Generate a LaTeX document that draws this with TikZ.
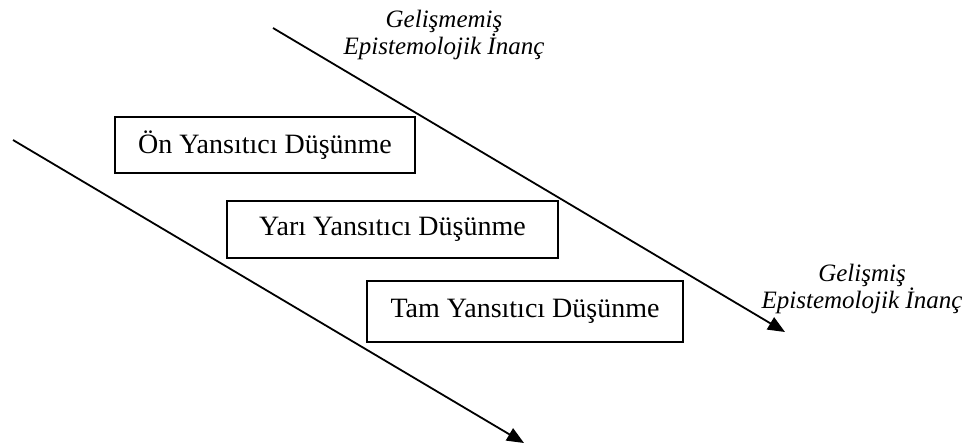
\documentclass[tikz,border=0pt]{standalone}
\usepackage{fontspec}
\setmainfont{Liberation Serif}
\usetikzlibrary{arrows.meta,positioning}

\begin{document}
\begin{tikzpicture}[x=1pt,y=-1pt,
  dbox/.style={draw,line width=1.6pt,inner sep=0pt,minimum height=56pt,
    font=\fontsize{28}{30}\selectfont},
  elabel/.style={align=center,inner sep=0pt,font=\fontsize{25}{27}\selectfont\itshape},
  darrow/.style={line width=1.8pt,-{Triangle[length=17pt,width=14pt]}}]

  \useasboundingbox (0,0) rectangle (968,445);

  % boxes
  \node[dbox,minimum width=300pt] (onY) at (265,145) {Ön Yansıtıcı Düşünme};
  \node[dbox,minimum width=331pt,minimum height=57pt] (yariY) at (392.5,229.5) {Yarı Yansıtıcı Düşünme};
  \node[dbox,minimum width=316pt,minimum height=61pt] (tamY) at (525,311.5) {Tam Yansıtıcı Düşünme};

  % labels
  \node[elabel] (gelismemis) at (444,35) {Gelişmemiş\\Epistemolojik İnanç};
  \node[elabel] (gelismis) at (862,289) {Gelişmiş\\Epistemolojik İnanç};

  % arrows
  \coordinate (t1) at (273,28);
  \coordinate (t2) at (785,332);
  \coordinate (b1) at (13,140);
  \coordinate (b2) at (524,443);
  \draw[darrow] (t1) -- (t2);
  \draw[darrow] (b1) -- (b2);

\end{tikzpicture}
\end{document}
